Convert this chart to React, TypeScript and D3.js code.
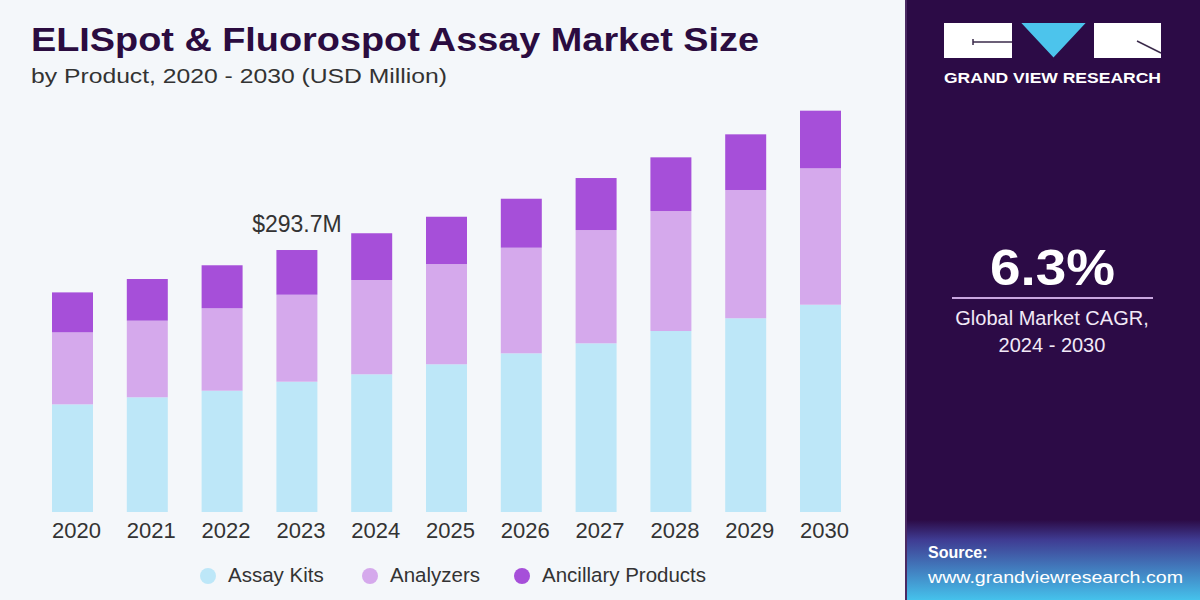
import React from "react";
import * as d3 from "d3";

const years = ["2020", "2021", "2022", "2023", "2024", "2025", "2026", "2027", "2028", "2029", "2030"];
const assayKits = [120.7, 128.6, 136.0, 146.1, 154.4, 165.6, 177.9, 189.1, 202.9, 217.2, 232.4];
const analyzers = [80.7, 85.9, 92.4, 97.5, 105.7, 112.4, 118.4, 127.0, 134.5, 143.8, 152.9];
const ancillary = [44.8, 46.7, 48.2, 50.1, 52.4, 53.0, 54.9, 58.3, 60.2, 62.4, 64.6];
const seriesNames = ["Assay Kits", "Analyzers", "Ancillary Products"];
const seriesKeys = ["kits", "analyzers", "ancillary"];
const seriesColors = ["#bde7f8", "#d5a9ec", "#a64fd9"];
const annotationYear = "2023";
const annotationText = "$293.7M";

export default function App() {
  const W = 1200;
  const H = 600;
  const rows = years.map((y, i) => ({
    year: y,
    kits: assayKits[i],
    analyzers: analyzers[i],
    ancillary: ancillary[i],
  }));
  const stack = d3.stack<any>().keys(seriesKeys);
  const stacked = stack(rows);

  const x = d3
    .scaleBand<string>()
    .domain(years)
    .range([35.1, 857.9])
    .paddingInner(0.452)
    .paddingOuter(0.226);
  const y = d3.scaleLinear().domain([0, 300]).range([512, 512 - 267.6]);

  const annIdx = years.indexOf(annotationYear);
  const annTotal = assayKits[annIdx] + analyzers[annIdx] + ancillary[annIdx];

  const legendX = [208, 370, 522];

  return (
    <svg
      width={W}
      height={H}
      style={{ position: "absolute", left: 0, top: 0, display: "block" }}
      fontFamily="'Liberation Sans', Arial, sans-serif"
    >
      <defs>
        <linearGradient id="srcGrad" x1="0" y1="0" x2="0" y2="1">
          <stop offset="0%" stopColor="#2c0b46" />
          <stop offset="25%" stopColor="#3f3c93" />
          <stop offset="100%" stopColor="#45c2ec" />
        </linearGradient>
      </defs>
      <rect x={0} y={0} width={W} height={H} fill="#f4f7fa" />

      {/* Title */}
      <text x={31} y={51} fontSize={33} fontWeight={900} fill="#2b0c40" textLength={728} lengthAdjust="spacingAndGlyphs">
        ELISpot &amp; Fluorospot Assay Market Size
      </text>
      <text x={31} y={83} fontSize={20} fill="#333" textLength={416} lengthAdjust="spacingAndGlyphs">
        by Product, 2020 - 2030 (USD Million)
      </text>

      {/* Bars */}
      {stacked.map((s, si) => (
        <g key={s.key}>
          {s.map((d: any, i: number) => (
            <rect
              key={i}
              x={x(years[i])}
              y={y(d[1])}
              width={x.bandwidth()}
              height={y(d[0]) - y(d[1])}
              fill={seriesColors[si]}
            />
          ))}
        </g>
      ))}

      {/* Annotation */}
      <text
        x={(x(annotationYear) as number) + x.bandwidth() / 2}
        y={y(annTotal) - 18}
        fontSize={23}
        fill="#333"
        textAnchor="middle"
      >
        {annotationText}
      </text>

      {/* Year labels */}
      {years.map((yr) => (
        <text
          key={yr}
          x={(x(yr) as number) + x.bandwidth() / 2 + 4}
          y={538}
          fontSize={22}
          fill="#333"
          textAnchor="middle"
        >
          {yr}
        </text>
      ))}

      {/* Legend */}
      {seriesNames.map((n, i) => (
        <g key={n}>
          <circle cx={legendX[i]} cy={576} r={8} fill={seriesColors[i]} />
          <text x={legendX[i] + 20} y={582} fontSize={20.5} fill="#333">
            {n}
          </text>
        </g>
      ))}

      {/* Right panel */}
      <rect x={905} y={0} width={295} height={H} fill="#2c0b46" />
      <rect x={905} y={520} width={295} height={80} fill="url(#srcGrad)" />
      <rect x={905} y={0} width={2} height={H} fill="#4a2a63" />

      {/* Logo */}
      <rect x={944} y={23} width={68} height={35} fill="#ffffff" />
      <line x1={973} y1={42} x2={1012} y2={42} stroke="#3a2a4a" strokeWidth={1.5} />
      <line x1={973} y1={39} x2={973} y2={45} stroke="#3a2a4a" strokeWidth={1.5} />
      <polygon points="1019,22 1088,22 1053.5,59" fill="#4cc4ec" stroke="#2c0b46" strokeWidth={2} />
      <rect x={1094} y={23} width={67} height={35} fill="#ffffff" />
      <line x1={1137} y1={41} x2={1161} y2={53} stroke="#3a2a4a" strokeWidth={1.5} />
      <text x={944} y={83} fontSize={15} fontWeight={700} fill="#ffffff" textLength={217} lengthAdjust="spacingAndGlyphs">
        GRAND VIEW RESEARCH
      </text>

      {/* CAGR */}
      <text x={990} y={285} fontSize={50} fontWeight={700} fill="#ffffff" textLength={125} lengthAdjust="spacingAndGlyphs">
        6.3%
      </text>
      <line x1={952} y1={298} x2={1153} y2={298} stroke="#c9a6e0" strokeWidth={2} />
      <text x={1052} y={325} fontSize={20} fill="#f2e9f7" textAnchor="middle">
        Global Market CAGR,
      </text>
      <text x={1052} y={352} fontSize={20} fill="#f2e9f7" textAnchor="middle">
        2024 - 2030
      </text>

      {/* Source */}
      <text x={928} y={558} fontSize={16} fontWeight={700} fill="#ffffff">
        Source:
      </text>
      <text x={928} y={583} fontSize={17} fill="#ffffff" textLength={255} lengthAdjust="spacingAndGlyphs">
        www.grandviewresearch.com
      </text>
    </svg>
  );
}
